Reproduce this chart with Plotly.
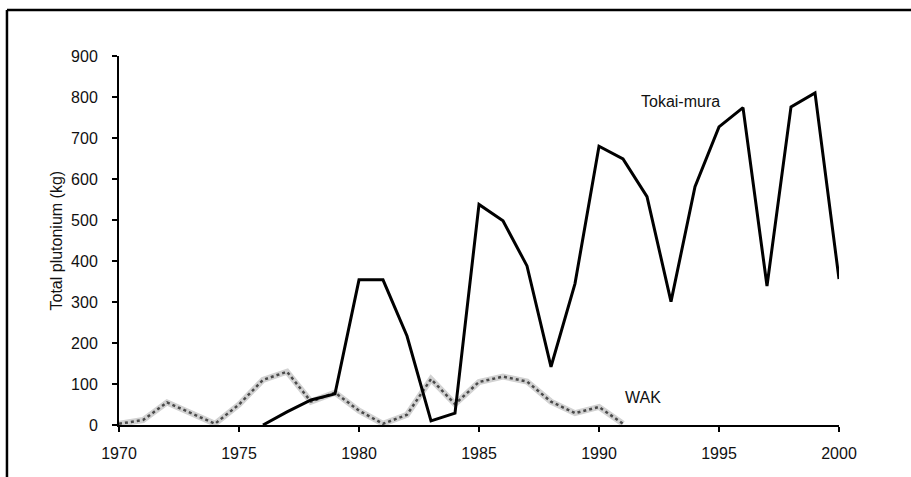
import plotly.graph_objects as go

# data
years_tokai = list(range(1976, 2001))
tokai_mura = [0, 32, 61, 76, 354, 354, 217, 10, 29, 538, 498, 388, 142, 345,
              680, 649, 557, 301, 581, 727, 774, 339, 776, 810, 356]

years_wak = list(range(1970, 1992))
wak = [3, 12, 55, 28, 3, 50, 110, 130, 57, 79, 35, 3, 25, 112, 51, 105,
       118, 106, 57, 29, 44, 3]

x_ticks = [1970, 1975, 1980, 1985, 1990, 1995, 2000]
y_ticks = [0, 100, 200, 300, 400, 500, 600, 700, 800, 900]

FONT = "Liberation Sans, Arial, sans-serif"

fig = go.Figure()

# WAK: grey band with a dark dotted core to mimic the hatched line
fig.add_trace(go.Scatter(x=years_wak, y=wak, mode="lines", name="WAK",
                         line=dict(color="#d2d2d2", width=6), cliponaxis=False))
fig.add_trace(go.Scatter(x=years_wak, y=wak, mode="lines", name="WAK",
                         line=dict(color="#4a4a4a", width=2.5, dash="dot"),
                         cliponaxis=False))

fig.add_trace(go.Scatter(x=years_tokai, y=tokai_mura, mode="lines",
                         name="Tokai-mura",
                         line=dict(color="black", width=3), cliponaxis=False))

fig.add_annotation(x=1991.67, y=790, text="Tokai-mura", showarrow=False,
                   xanchor="left", font=dict(size=16, color="#111"))
fig.add_annotation(x=1991.0, y=66, text="WAK", showarrow=False,
                   xanchor="left", font=dict(size=16, color="#111"))

# y axis title placed by hand
fig.add_annotation(xref="paper", yref="paper", x=-0.0875, y=0.5,
                   xanchor="center", yanchor="middle",
                   text="Total plutonium (kg)", textangle=-90, showarrow=False,
                   font=dict(size=16, color="#111"))

# outer frame (left + top only)
fig.add_shape(type="line", xref="paper", yref="paper",
              x0=-0.1556, x1=-0.1556, y0=1.1247, y1=-0.15,
              line=dict(color="black", width=2.5))
fig.add_shape(type="line", xref="paper", yref="paper",
              x0=-0.1556, x1=1.11, y0=1.1247, y1=1.1247,
              line=dict(color="black", width=2.5))

fig.update_layout(
    width=911, height=477,
    margin=dict(l=119, r=72, t=56, b=52),
    plot_bgcolor="white", paper_bgcolor="white",
    showlegend=False,
    font=dict(family=FONT, size=16, color="#111"),
)
fig.update_xaxes(range=[1970, 2000], tickvals=x_ticks, showgrid=False,
                 zeroline=False, showline=True, linecolor="black", linewidth=2,
                 ticks="outside", ticklen=5, tickwidth=2, tickcolor="black",
                 tickfont=dict(size=16), ticklabelstandoff=8, automargin=False)
fig.update_yaxes(range=[0, 900], tickvals=y_ticks, showgrid=False,
                 zeroline=False, showline=True, linecolor="black", linewidth=2,
                 ticks="outside", ticklen=5, tickwidth=2, tickcolor="black",
                 tickfont=dict(size=16), ticklabelstandoff=11, automargin=False)

# drop the browser's default body margin so the figure sits at (0, 0)
fig.write_html("out.html", config={"displayModeBar": False},
               post_script="document.body.style.margin='0px';")
